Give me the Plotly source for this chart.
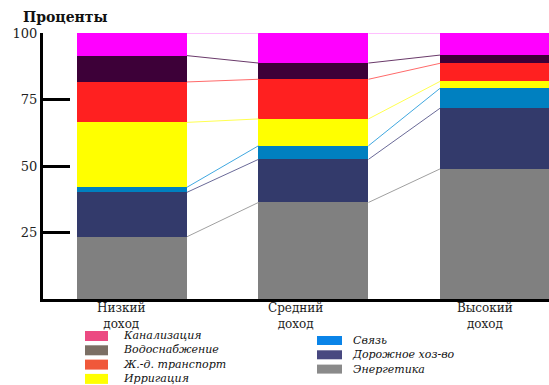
import plotly.graph_objects as go

# ---- data ----
categories = ["Низкий<br>доход", "Средний<br>доход", "Высокий<br>доход"]
series_names = ["Энергетика", "Дорожное хоз-во", "Связь", "Ирригация",
                "Ж.-д. транспорт", "Водоснабжение", "Канализация"]
energy    = [23.4, 36.3, 48.9]
roads     = [16.7, 16.2, 22.8]
telecom   = [1.9, 5.1, 7.5]
irrigation = [24.4, 10.1, 2.6]
railway   = [15.2, 14.9, 6.8]
water     = [9.9, 6.1, 3.1]
sewer     = [8.5, 11.3, 8.3]
series_values = [energy, roads, telecom, irrigation, railway, water, sewer]
y_ticks = [25, 50, 75, 100]

bar_colors = ["#808080", "#333a6b", "#0080c0", "#ffff00", "#ff2020", "#3d0038", "#ff00ff"]
line_colors = ["#a0a0a0", "#6a6a98", "#40a8e0", "#ffff50", "#ff6a6a", "#6a3a6a", "#ff80ff"]

legend_left = ["Канализация", "Водоснабжение", "Ж.-д. транспорт", "Ирригация"]
legend_left_colors = ["#ec4a82", "#7b6f64", "#f0583a", "#ffff00"]
legend_right = ["Связь", "Дорожное хоз-во", "Энергетика"]
legend_right_colors = ["#0a84e8", "#484880", "#8a8a8a"]

SERIF = "DejaVu Serif, Liberation Serif, serif"

W, H = 549, 385
L, R, T, B = 43, 0, 33, 86
BW = 0.606
xpos = list(range(len(categories)))

fig = go.Figure()
for name, vals, col in zip(series_names, series_values, bar_colors):
    fig.add_trace(go.Bar(x=xpos, y=vals, name=name, width=BW,
                         marker=dict(color=col, line=dict(width=0)),
                         showlegend=False))

# connector lines between bars
cum = [0.0] * len(categories)
for name, vals, lc in zip(series_names, series_values, line_colors):
    cum = [c + v for c, v in zip(cum, vals)]
    xs, ys = [], []
    for i in range(len(categories) - 1):
        xs += [xpos[i] + BW / 2, xpos[i + 1] - BW / 2, None]
        ys += [cum[i], cum[i + 1], None]
    fig.add_trace(go.Scatter(x=xs, y=ys, mode="lines", line=dict(color=lc, width=1),
                             showlegend=False, hoverinfo="skip"))

pw, ph = W - L - R, H - T - B
def px(x):
    return (x - L) / pw
def py(y):
    return (H - B - y) / ph

shapes, annotations = [], []
annotations.append(dict(x=px(21), y=py(17), xref="paper", yref="paper", text="<b>Проценты</b>",
                        showarrow=False, xanchor="left", yanchor="middle",
                        font=dict(family=SERIF, size=14, color="#111")))

# category labels
label_shift = [-0.055, -0.10, -0.055]
for xp, cat, sh in zip(xpos, categories, label_shift):
    annotations.append(dict(x=xp + sh, y=py(316), xref="x", yref="paper", text=cat,
                            showarrow=False, xanchor="center", yanchor="middle",
                            font=dict(family=SERIF, size=12, color="#222")))

# manual legend, two columns
LF = 11
step = LF * 1.3
def legend_column(labels, colors, x_sw0, x_sw1, x_txt, y_first, sw_h):
    for k, col in enumerate(colors):
        yc = y_first + k * step
        shapes.append(dict(type="rect", xref="paper", yref="paper", x0=px(x_sw0), x1=px(x_sw1),
                           y0=py(yc - sw_h / 2), y1=py(yc + sw_h / 2), fillcolor=col, line=dict(width=0)))
    yc_block = y_first + (len(labels) - 1) * step / 2
    annotations.append(dict(x=px(x_txt), y=py(yc_block), xref="paper", yref="paper",
                            text="<br>".join("<i>" + s + "</i>" for s in labels),
                            showarrow=False, xanchor="left", yanchor="middle", align="left",
                            font=dict(family=SERIF, size=LF, color="#111")))

legend_column(legend_left, legend_left_colors, 85, 108, 121, 336, 10)
legend_column(legend_right, legend_right_colors, 317, 342, 350, 340.5, 9)

fig.update_layout(
    width=W, height=H, margin=dict(l=L, r=R, t=T, b=B),
    barmode="stack", bargap=0,
    paper_bgcolor="white", plot_bgcolor="white",
    showlegend=False, shapes=shapes, annotations=annotations,
    xaxis=dict(range=[-0.49, 2.2975], showticklabels=False,
               showline=True, linecolor="black", linewidth=3, ticks="", showgrid=False,
               zeroline=False),
    yaxis=dict(range=[0, 100], tickvals=y_ticks, ticks="inside", ticklen=27, tickwidth=3,
               tickcolor="black", showline=True, linecolor="black", linewidth=3,
               showgrid=False, zeroline=False,
               tickfont=dict(family=SERIF, size=13, color="#222")),
)

fig.write_html("out.html", config={"displayModeBar": False},
               post_script="document.body.style.margin='0';document.body.style.padding='0';"
                           "document.body.style.overflow='hidden';")
